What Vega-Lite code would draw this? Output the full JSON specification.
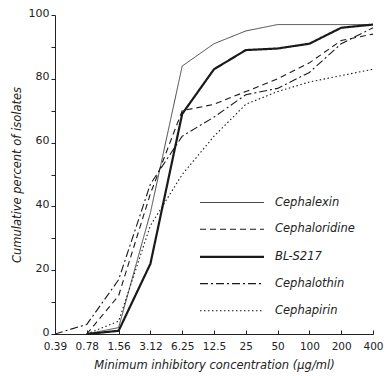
{
  "$schema": "https://vega.github.io/schema/vega-lite/v6.json",
  "autosize": "none",
  "width": 318,
  "height": 319,
  "padding": {"left": 55, "top": 15, "right": 17, "bottom": 42},
  "background": "white",
  "config": {
    "view": {"stroke": null},
    "font": "DejaVu Sans",
    "axis": {"domainColor": "#222", "tickColor": "#222", "labelColor": "#222", "titleColor": "#222", "grid": false}
  },
  "data": {
    "values": [
      {"drug": "Cephalexin", "mic": "0.78", "pct": 0},
      {"drug": "Cephalexin", "mic": "1.56", "pct": 2},
      {"drug": "Cephalexin", "mic": "3.12", "pct": 38},
      {"drug": "Cephalexin", "mic": "6.25", "pct": 84},
      {"drug": "Cephalexin", "mic": "12.5", "pct": 91},
      {"drug": "Cephalexin", "mic": "25", "pct": 95},
      {"drug": "Cephalexin", "mic": "50", "pct": 97},
      {"drug": "Cephalexin", "mic": "100", "pct": 97},
      {"drug": "Cephalexin", "mic": "200", "pct": 97},
      {"drug": "Cephalexin", "mic": "400", "pct": 97},
      {"drug": "Cephaloridine", "mic": "0.78", "pct": 0},
      {"drug": "Cephaloridine", "mic": "1.56", "pct": 12},
      {"drug": "Cephaloridine", "mic": "3.12", "pct": 44},
      {"drug": "Cephaloridine", "mic": "6.25", "pct": 70},
      {"drug": "Cephaloridine", "mic": "12.5", "pct": 72},
      {"drug": "Cephaloridine", "mic": "25", "pct": 76},
      {"drug": "Cephaloridine", "mic": "50", "pct": 80},
      {"drug": "Cephaloridine", "mic": "100", "pct": 85},
      {"drug": "Cephaloridine", "mic": "200", "pct": 92},
      {"drug": "Cephaloridine", "mic": "400", "pct": 94},
      {"drug": "BL-S217", "mic": "0.78", "pct": 0},
      {"drug": "BL-S217", "mic": "1.56", "pct": 1},
      {"drug": "BL-S217", "mic": "3.12", "pct": 22},
      {"drug": "BL-S217", "mic": "6.25", "pct": 69},
      {"drug": "BL-S217", "mic": "12.5", "pct": 83},
      {"drug": "BL-S217", "mic": "25", "pct": 89},
      {"drug": "BL-S217", "mic": "50", "pct": 89.5},
      {"drug": "BL-S217", "mic": "100", "pct": 91},
      {"drug": "BL-S217", "mic": "200", "pct": 96},
      {"drug": "BL-S217", "mic": "400", "pct": 97},
      {"drug": "Cephalothin", "mic": "0.39", "pct": 0},
      {"drug": "Cephalothin", "mic": "0.78", "pct": 3},
      {"drug": "Cephalothin", "mic": "1.56", "pct": 17},
      {"drug": "Cephalothin", "mic": "3.12", "pct": 47},
      {"drug": "Cephalothin", "mic": "6.25", "pct": 62},
      {"drug": "Cephalothin", "mic": "12.5", "pct": 68},
      {"drug": "Cephalothin", "mic": "25", "pct": 75},
      {"drug": "Cephalothin", "mic": "50", "pct": 77},
      {"drug": "Cephalothin", "mic": "100", "pct": 82},
      {"drug": "Cephalothin", "mic": "200", "pct": 91},
      {"drug": "Cephalothin", "mic": "400", "pct": 96},
      {"drug": "Cephapirin", "mic": "0.78", "pct": 0},
      {"drug": "Cephapirin", "mic": "1.56", "pct": 4},
      {"drug": "Cephapirin", "mic": "3.12", "pct": 34},
      {"drug": "Cephapirin", "mic": "6.25", "pct": 50},
      {"drug": "Cephapirin", "mic": "12.5", "pct": 62},
      {"drug": "Cephapirin", "mic": "25", "pct": 72},
      {"drug": "Cephapirin", "mic": "50", "pct": 76},
      {"drug": "Cephapirin", "mic": "100", "pct": 79},
      {"drug": "Cephapirin", "mic": "200", "pct": 81},
      {"drug": "Cephapirin", "mic": "400", "pct": 83}
    ]
  },
  "mark": {"type": "line", "color": "#1a1a1a", "strokeCap": "butt"},
  "encoding": {
    "x": {
      "field": "mic", "type": "ordinal",
      "scale": {"type": "point", "padding": 0, "domain": ["0.39", "0.78", "1.56", "3.12", "6.25", "12.5", "25", "50", "100", "200", "400"]},
      "axis": {"title": "Minimum inhibitory concentration (μg/ml)", "titleFontStyle": "italic", "titleFontWeight": "normal", "titleFontSize": 11.5, "titlePadding": 8, "labelAngle": 0, "labelFontSize": 10.5, "tickSize": -4, "labelPadding": 11, "domainWidth": 1}
    },
    "y": {
      "field": "pct", "type": "quantitative",
      "scale": {"domain": [0, 100], "nice": false},
      "axis": {"title": "Cumulative percent of isolates", "titleFontStyle": "italic", "titleFontWeight": "normal", "titleFontSize": 11.5, "titlePadding": 6, "values": [0, 10, 20, 30, 40, 50, 60, 70, 80, 90, 100], "labelExpr": "datum.value % 20 == 0 ? datum.label : ''", "labelFontSize": 11, "tickSize": 4, "labelPadding": 2, "labelOffset": -2}
    },
    "detail": {"field": "drug", "type": "nominal"},
    "strokeDash": {
      "field": "drug", "type": "nominal",
      "scale": {"domain": ["Cephalexin", "Cephaloridine", "BL-S217", "Cephalothin", "Cephapirin"], "range": [[1, 0], [6, 4], [1, 0], [8, 3, 2, 3], [1.5, 2.5]]},
      "legend": {"title": null, "orient": "none", "legendX": 167.5, "legendY": 179, "symbolType": "M-4,0L4,0", "symbolSize": 256, "symbolStrokeColor": "#1a1a1a", "labelFontSize": 11.5, "labelFontStyle": "italic", "labelColor": "#222", "rowPadding": 12.2, "labelOffset": 33.5,
        "encode": {"symbols": {"update": {"strokeWidth": {"scale": "strokeWidth", "field": "value"}}}}}
    },
    "strokeWidth": {
      "field": "drug", "type": "ordinal",
      "scale": {"type": "ordinal", "domain": ["Cephalexin", "Cephaloridine", "BL-S217", "Cephalothin", "Cephapirin"], "range": [0.8, 1.1, 2.2, 1.1, 1.1]},
      "legend": null
    }
  }
}
